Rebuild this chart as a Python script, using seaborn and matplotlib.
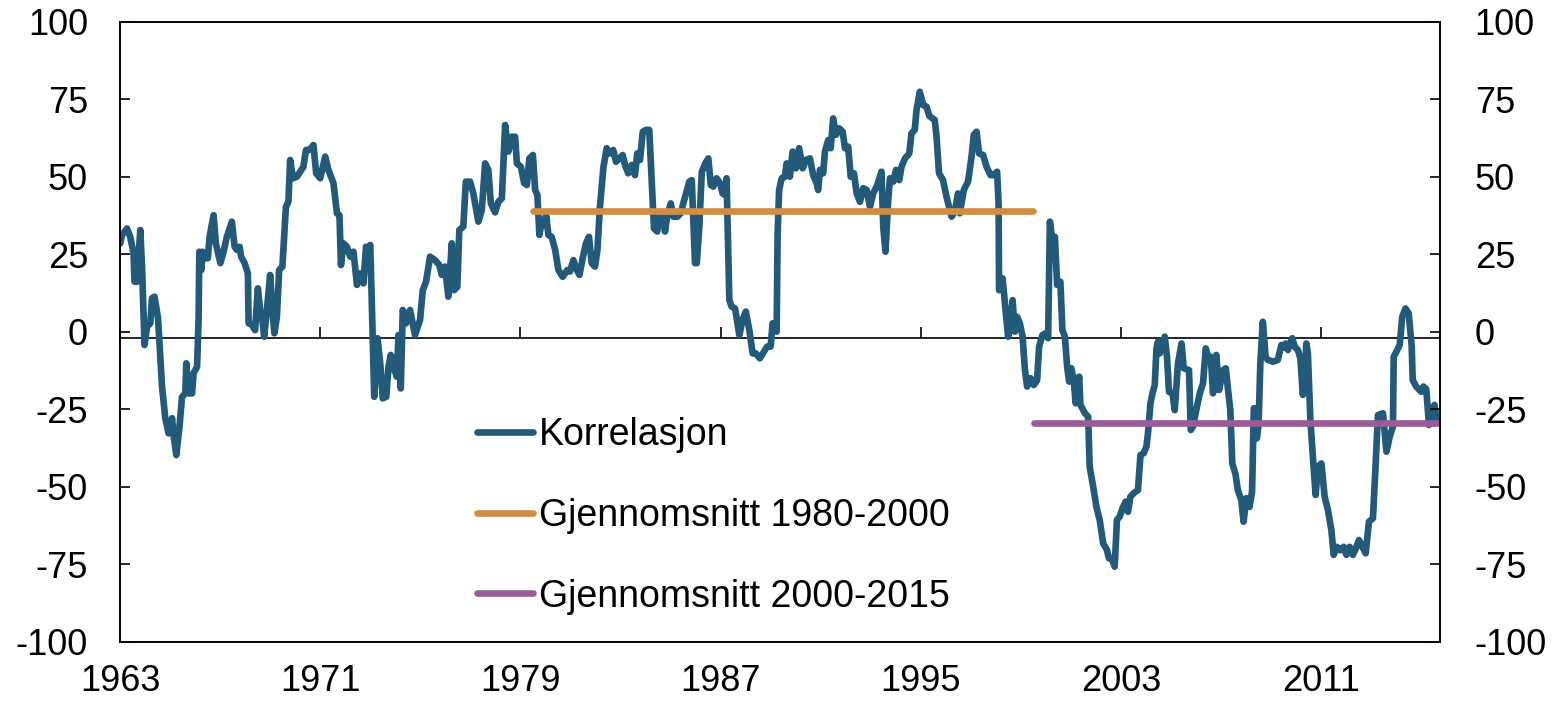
import matplotlib
matplotlib.use("Agg")
import matplotlib.pyplot as plt
import seaborn as sns

# Korrelasjon (decimal year, percent)
years = [
    1963.01, 1963.08, 1963.28, 1963.41, 1963.54, 1963.58, 1963.68, 1963.81, 1963.88, 1963.98,
    1964.08, 1964.21, 1964.28, 1964.38, 1964.52, 1964.68, 1964.81, 1964.94, 1965.08, 1965.14,
    1965.25, 1965.37, 1965.48, 1965.61, 1965.65, 1965.74, 1965.88, 1965.94, 1966.08, 1966.14,
    1966.17, 1966.25, 1966.30, 1966.41, 1966.51, 1966.58, 1966.74, 1966.83, 1967.01, 1967.14,
    1967.27, 1967.34, 1967.47, 1967.58, 1967.67, 1967.78, 1967.84, 1967.98, 1968.11, 1968.14,
    1968.27, 1968.40, 1968.51, 1968.60, 1968.67, 1968.76, 1968.87, 1969.00, 1969.09, 1969.17,
    1969.27, 1969.36, 1969.49, 1969.63, 1969.73, 1969.80, 1969.91, 1970.07, 1970.20, 1970.33,
    1970.43, 1970.56, 1970.73, 1970.84, 1971.00, 1971.20, 1971.33, 1971.53, 1971.67, 1971.77,
    1971.83, 1971.93, 1972.07, 1972.20, 1972.33, 1972.47, 1972.60, 1972.73, 1972.83, 1972.91,
    1973.00, 1973.06, 1973.16, 1973.29, 1973.40, 1973.50, 1973.64, 1973.73, 1973.82, 1973.93,
    1974.06, 1974.13, 1974.22, 1974.30, 1974.43, 1974.59, 1974.79, 1974.99, 1975.10, 1975.23,
    1975.39, 1975.59, 1975.76, 1975.86, 1975.99, 1976.12, 1976.26, 1976.35, 1976.48, 1976.56,
    1976.72, 1976.82, 1976.99, 1977.12, 1977.32, 1977.46, 1977.59, 1977.72, 1977.82, 1977.99,
    1978.12, 1978.26, 1978.39, 1978.52, 1978.66, 1978.79, 1978.86, 1979.02, 1979.15, 1979.26,
    1979.36, 1979.50, 1979.59, 1979.68, 1979.76, 1979.86, 1979.92, 1980.03, 1980.12, 1980.25,
    1980.39, 1980.52, 1980.69, 1980.88, 1980.98, 1981.12, 1981.22, 1981.36, 1981.49, 1981.62,
    1981.74, 1981.85, 1981.98, 1982.08, 1982.18, 1982.32, 1982.45, 1982.58, 1982.71, 1982.82,
    1982.95, 1983.09, 1983.18, 1983.31, 1983.45, 1983.58, 1983.67, 1983.78, 1983.89, 1984.02,
    1984.15, 1984.22, 1984.34, 1984.47, 1984.55, 1984.69, 1984.78, 1984.87, 1985.01, 1985.11,
    1985.27, 1985.41, 1985.51, 1985.65, 1985.75, 1985.85, 1985.91, 1985.98, 1986.05, 1986.15,
    1986.25, 1986.39, 1986.51, 1986.61, 1986.71, 1986.84, 1986.98, 1987.08, 1987.18, 1987.24,
    1987.31, 1987.35, 1987.44, 1987.58, 1987.75, 1987.88, 1988.01, 1988.15, 1988.28, 1988.41,
    1988.57, 1988.73, 1988.86, 1989.00, 1989.08, 1989.24, 1989.28, 1989.34, 1989.44, 1989.57,
    1989.64, 1989.77, 1989.88, 1990.01, 1990.14, 1990.28, 1990.41, 1990.57, 1990.70, 1990.84,
    1990.90, 1990.97, 1991.10, 1991.17, 1991.30, 1991.40, 1991.50, 1991.61, 1991.74, 1991.88,
    1991.97, 1992.10, 1992.20, 1992.33, 1992.44, 1992.57, 1992.70, 1992.84, 1992.97, 1993.10,
    1993.26, 1993.43, 1993.50, 1993.59, 1993.70, 1993.77, 1993.90, 1994.01, 1994.14, 1994.23,
    1994.37, 1994.54, 1994.63, 1994.76, 1994.83, 1994.96, 1995.10, 1995.23, 1995.34, 1995.56,
    1995.63, 1995.73, 1995.89, 1996.03, 1996.13, 1996.23, 1996.36, 1996.49, 1996.56, 1996.72,
    1996.89, 1997.03, 1997.12, 1997.23, 1997.33, 1997.49, 1997.63, 1997.79, 1997.92, 1998.05,
    1998.11, 1998.13, 1998.27, 1998.40, 1998.49, 1998.59, 1998.67, 1998.76, 1998.85, 1998.96,
    1999.07, 1999.16, 1999.25, 1999.39, 1999.52, 1999.65, 1999.73, 1999.86, 1999.99, 2000.09,
    2000.16, 2000.26, 2000.36, 2000.45, 2000.58, 2000.66, 2000.76, 2000.85, 2000.93, 2001.02,
    2001.11, 2001.19, 2001.33, 2001.38, 2001.56, 2001.69, 2001.75, 2001.89, 2002.02, 2002.15,
    2002.29, 2002.44, 2002.52, 2002.63, 2002.75, 2002.84, 2002.95, 2003.06, 2003.19, 2003.28,
    2003.38, 2003.51, 2003.68, 2003.78, 2003.91, 2004.02, 2004.08, 2004.18, 2004.26, 2004.35,
    2004.42, 2004.48, 2004.55, 2004.66, 2004.75, 2004.84, 2004.92, 2005.06, 2005.15, 2005.28,
    2005.42, 2005.51, 2005.72, 2005.79, 2005.88, 2006.01, 2006.15, 2006.28, 2006.39, 2006.48,
    2006.59, 2006.68, 2006.81, 2006.92, 2007.08, 2007.19, 2007.28, 2007.37, 2007.45, 2007.58,
    2007.67, 2007.81, 2007.90, 2008.01, 2008.14, 2008.24, 2008.31, 2008.38, 2008.43, 2008.50,
    2008.57, 2008.67, 2008.78, 2008.87, 2009.07, 2009.27, 2009.41, 2009.50, 2009.58, 2009.67,
    2009.77, 2009.85, 2009.94, 2010.07, 2010.17, 2010.27, 2010.34, 2010.41, 2010.47, 2010.57,
    2010.67, 2010.78, 2010.87, 2011.01, 2011.14, 2011.27, 2011.41, 2011.50, 2011.63, 2011.77,
    2011.90, 2012.01, 2012.14, 2012.27, 2012.38, 2012.51, 2012.65, 2012.78, 2012.91, 2013.07,
    2013.18, 2013.27, 2013.47, 2013.61, 2013.74, 2013.87, 2013.90, 2014.00, 2014.14, 2014.24,
    2014.37, 2014.50, 2014.62, 2014.66, 2014.80, 2015.00, 2015.09, 2015.20, 2015.31, 2015.40,
    2015.53, 2015.61, 2015.74,
]
korrelasjon = [
    28.5, 31.2, 33.3, 30.6, 25.3, 16.1, 16.1, 32.8, 21.0, -4.3,
    1.6, 2.7, 10.8, 11.3, 4.3, -17.7, -27.9, -32.8, -27.9, -33.3,
    -39.8, -31.2, -21.0, -19.9, -10.2, -19.9, -19.9, -13.4, -11.3, 3.8,
    25.8, 19.9, 25.8, 23.7, 23.7, 30.6, 37.6, 28.5, 22.1, 25.8,
    30.6, 32.3, 35.5, 27.4, 26.4, 27.4, 24.2, 22.1, 18.8, 2.7,
    2.2, 0.5, 14.0, 7.0, 5.4, -1.6, 7.0, 18.3, 7.0, -0.5,
    4.8, 19.9, 21.0, 40.3, 41.9, 55.4, 49.5, 50.0, 51.6, 53.2,
    58.6, 58.6, 60.2, 51.1, 49.5, 56.5, 52.2, 47.9, 38.2, 37.6,
    21.5, 28.5, 27.4, 24.2, 25.8, 15.1, 18.8, 15.6, 27.4, 25.3,
    28.0, 10.2, -21.0, -2.1, -10.2, -21.5, -21.0, -11.3, -7.5, -11.3,
    -14.5, -1.1, -18.3, 7.0, 2.7, 7.0, -1.1, 3.8, 13.4, 16.1,
    24.2, 23.1, 21.5, 18.3, 21.0, 11.3, 28.5, 13.4, 14.5, 32.8,
    33.9, 48.4, 48.4, 44.6, 35.5, 39.3, 54.3, 52.2, 41.4, 38.5,
    41.9, 43.0, 66.7, 58.1, 62.9, 62.9, 54.3, 53.2, 47.9, 47.3,
    55.9, 57.0, 45.7, 44.1, 31.2, 36.0, 34.4, 37.6, 31.2, 30.6,
    26.4, 19.9, 17.7, 19.9, 19.4, 23.1, 20.5, 18.3, 23.7, 28.5,
    30.6, 22.1, 21.0, 26.4, 40.3, 53.2, 59.2, 57.5, 58.6, 54.8,
    55.9, 57.0, 53.8, 51.1, 53.8, 50.5, 57.5, 55.4, 64.5, 65.1,
    65.1, 53.2, 33.3, 32.3, 37.1, 37.1, 32.3, 37.6, 41.4, 37.1,
    37.1, 38.2, 41.4, 45.5, 48.4, 48.9, 36.0, 22.1, 22.1, 33.9,
    51.6, 54.3, 55.9, 47.3, 46.8, 49.5, 47.9, 44.6, 44.1, 49.5,
    24.2, 10.2, 8.1, 7.5, -1.1, 3.8, 6.5, 0.5, -7.0, -7.0,
    -8.6, -6.5, -4.8, -4.8, 2.7, 0.0, 31.7, 45.7, 49.5, 50.0,
    54.3, 50.0, 58.1, 52.7, 59.2, 52.7, 55.4, 55.9, 50.5, 47.9,
    45.7, 52.2, 51.1, 58.1, 61.8, 59.2, 68.8, 63.5, 65.6, 64.5,
    59.2, 59.7, 50.0, 51.1, 44.6, 41.9, 46.3, 45.7, 40.3, 44.6,
    47.3, 51.6, 33.9, 25.8, 42.5, 49.5, 48.4, 52.2, 48.9, 53.2,
    55.9, 57.5, 64.0, 65.1, 71.5, 77.4, 73.1, 72.6, 69.6, 68.3,
    62.9, 51.1, 48.9, 43.5, 40.3, 37.1, 38.7, 44.6, 38.2, 45.7,
    48.4, 56.5, 63.5, 64.5, 57.5, 57.0, 53.2, 50.5, 50.5, 51.6,
    41.4, 13.4, 17.2, 5.9, -1.6, 2.7, 10.2, 0.0, 4.8, 2.7,
    -1.6, -12.0, -17.7, -15.0, -17.2, -15.6, -4.8, -1.1, -0.5, -2.1,
    35.5, 29.6, 30.6, 15.1, 16.1, 0.5, -1.6, -11.3, -16.1, -11.8,
    -15.6, -23.1, -14.5, -23.6, -26.3, -27.4, -43.5, -50.0, -56.5, -60.7,
    -68.3, -70.4, -73.1, -73.1, -75.8, -60.7, -59.7, -57.0, -54.8, -58.1,
    -53.2, -52.1, -51.1, -39.8, -39.2, -37.0, -32.8, -23.1, -19.9, -17.2,
    -5.4, -3.2, -7.0, -3.8, -1.6, -8.1, -19.4, -19.9, -25.3, -10.2,
    -3.8, -11.8, -12.4, -31.7, -30.6, -25.3, -19.9, -16.6, -5.4, -8.1,
    -8.1, -19.9, -7.5, -18.8, -12.4, -11.8, -18.8, -25.3, -42.5, -46.0,
    -51.1, -54.3, -61.3, -53.7, -56.5, -51.6, -24.7, -24.7, -34.4, -30.0,
    -10.2, 3.2, -8.1, -9.1, -9.7, -9.1, -4.3, -5.0, -3.8, -5.9,
    -3.5, -2.1, -4.8, -5.9, -8.6, -20.4, -15.0, -3.8, -7.0, -28.5,
    -40.3, -52.7, -43.5, -42.5, -53.2, -57.5, -64.0, -72.0, -69.4, -70.5,
    -69.4, -72.0, -69.4, -72.0, -70.0, -67.2, -69.4, -71.5, -61.3, -60.2,
    -42.5, -26.9, -26.3, -38.7, -33.9, -30.6, -8.1, -6.5, -4.3, 4.8,
    7.5, 5.9, -4.8, -15.6, -17.7, -19.4, -17.7, -18.5, -30.1, -26.3,
    -23.6, -28.5, -28.5,
]

# averages (start, end year and level)
snitt_8000_years = [1979.52, 1999.49]
snitt_8000 = [39.0, 39.0]
snitt_0015_years = [1999.52, 2015.75]
snitt_0015 = [-29.3, -29.3]

x_ticks = [1963, 1971, 1979, 1987, 1995, 2003, 2011]
y_ticks = [-100, -75, -50, -25, 0, 25, 50, 75, 100]
zero_line_level = -2  # horizontal axis crosses a bit below zero

BLUE = "#235a7a"
ORANGE = "#d38d42"
PURPLE = "#9a5c98"
FS = 26
LW = 4.8

sns.set_style("ticks")
plt.rcParams["font.family"] = ["Liberation Sans", "DejaVu Sans"]
plt.rcParams["text.color"] = "black"
plt.rcParams["xtick.color"] = "black"
plt.rcParams["ytick.color"] = "black"

fig = plt.figure(figsize=(15.55, 7.03), dpi=100)
ax = fig.add_axes([120 / 1555, 61.3 / 703, 1320 / 1555, 620 / 703])

sns.lineplot(x=years, y=korrelasjon, ax=ax, color=BLUE, linewidth=LW,
             estimator=None, sort=False, label="Korrelasjon",
             solid_joinstyle="round", solid_capstyle="round")
sns.lineplot(x=snitt_8000_years, y=snitt_8000, ax=ax, color=ORANGE, linewidth=LW,
             estimator=None, label="Gjennomsnitt 1980-2000", solid_capstyle="round")
sns.lineplot(x=snitt_0015_years, y=snitt_0015, ax=ax, color=PURPLE, linewidth=LW,
             estimator=None, label="Gjennomsnitt 2000-2015", solid_capstyle="round")

ax.set_xlim(1963, 2015.75)
ax.set_ylim(-100, 100)
ax.set_yticks(y_ticks)
ax.set_yticklabels([str(v) for v in y_ticks])
ax.set_xticks(x_ticks)
ax.set_xticklabels([str(v) for v in x_ticks])
ax.set_xlabel("")
ax.set_ylabel("")
for s in ax.spines.values():
    s.set_visible(True)
    s.set_linewidth(1.2)
    s.set_color("black")
ax.tick_params(axis="y", direction="in", length=7.5, width=1.2, labelsize=FS,
               pad=23, colors="black")
ax.tick_params(axis="x", length=0, labelsize=FS, pad=16, colors="black")

# right hand axis
ax2 = ax.twinx()
ax2.set_ylim(-100, 100)
ax2.set_yticks(y_ticks)
ax2.set_yticklabels([str(v) for v in y_ticks])
ax2.tick_params(axis="y", direction="in", length=7.5, width=1.2, labelsize=FS,
                pad=25, colors="black")
for s in ax2.spines.values():
    s.set_linewidth(1.2)
    s.set_color("black")

# horizontal axis line with upward tick marks
sec = ax.secondary_xaxis((zero_line_level + 100) / 200)
sec.set_xticks(x_ticks)
sec.tick_params(direction="in", length=8, width=1.2, labelbottom=False,
                labeltop=False, colors="black")
sec.spines["bottom"].set_linewidth(1.2)
sec.spines["bottom"].set_color("black")

ax.legend(loc="upper left", bbox_to_anchor=(0.2705, 0.362), frameon=False,
          fontsize=27, handlelength=1.5, handletextpad=0.15, labelspacing=1.19,
          borderpad=0, borderaxespad=0)

fig.savefig("out.png", dpi=100)
